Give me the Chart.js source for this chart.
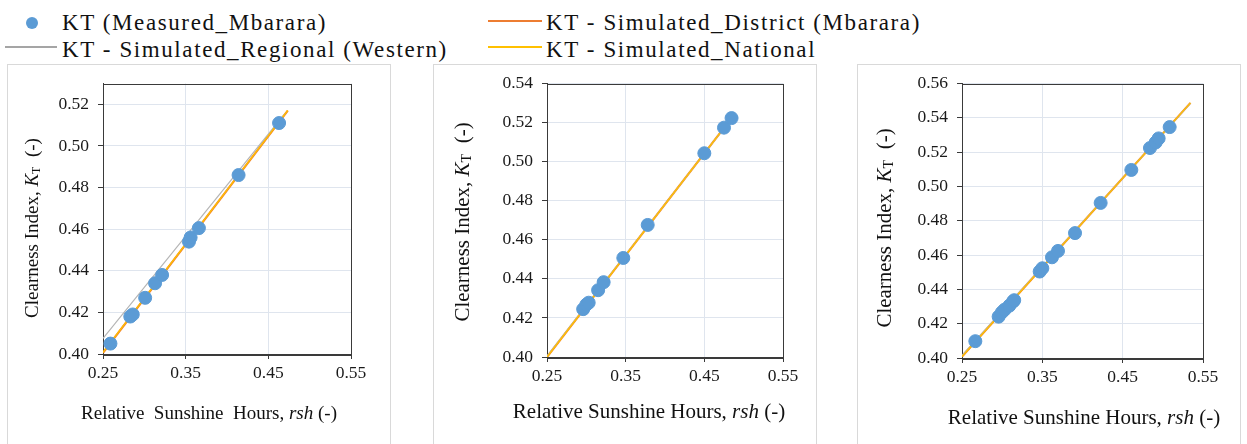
<!DOCTYPE html>
<html>
<head>
<meta charset="utf-8">
<script src="https://cdn.jsdelivr.net/npm/chart.js@4/dist/chart.umd.min.js"></script>
<style>
  body { margin: 0; background: #fff; width: 1247px; height: 444px; overflow: hidden; position: relative; font-family: "Liberation Serif", "Times New Roman", serif; }
  .box { position: absolute; top: 64px; width: 382px; height: 400px; border: 1px solid #d9d9d9; }
  .cv { position: absolute; top: 64px; width: 384px; height: 380px; }
  .leg { position: absolute; font-family: "Liberation Serif", "Times New Roman", serif; font-size: 23px; line-height: 23px; letter-spacing: 1.6px; color: #111; white-space: pre; }
  .mk { position: absolute; }
</style>
</head>
<body>
<div class="box" style="left:7px"></div>
<div class="box" style="left:433px"></div>
<div class="box" style="left:857px"></div>

<div class="mk" style="left:26px;top:17px;width:12px;height:12px;border-radius:50%;background:#5B9BD5"></div>
<div class="leg" style="left:62px;top:11px">KT (Measured_Mbarara)</div>
<div class="mk" style="left:5px;top:46px;width:52px;height:2px;background:#A5A5A5"></div>
<div class="leg" style="left:62px;top:38px">KT - Simulated_Regional (Western)</div>
<div class="mk" style="left:488px;top:20px;width:54px;height:2px;background:#ED7D31"></div>
<div class="leg" style="left:546px;top:11px">KT - Simulated_District (Mbarara)</div>
<div class="mk" style="left:488px;top:46px;width:54px;height:2px;background:#FFC000"></div>
<div class="leg" style="left:546px;top:38px">KT - Simulated_National</div>

<canvas id="c1" class="cv" style="left:7px" width="384" height="380"></canvas>
<canvas id="c2" class="cv" style="left:433px" width="384" height="380"></canvas>
<canvas id="c3" class="cv" style="left:857px" width="384" height="380"></canvas>

<script>
// panel 1
var p1MeasX = [0.259, 0.283, 0.286, 0.301, 0.313, 0.3215, 0.354, 0.356, 0.366, 0.414, 0.463];
var p1MeasY = [0.405, 0.418, 0.419, 0.427, 0.434, 0.438, 0.454, 0.456, 0.4605, 0.486, 0.511];
var p1DistX = [0.25, 0.4735];
var p1DistY = [0.4006, 0.517];
var p1RegX = [0.25, 0.470];
var p1RegY = [0.4075, 0.5155];
var p1NatX = [0.25, 0.4735];
var p1NatY = [0.4008, 0.5171];

// panel 2
var p2MeasX = [0.296, 0.300, 0.303, 0.315, 0.322, 0.347, 0.378, 0.450, 0.475, 0.4846];
var p2MeasY = [0.4245, 0.4268, 0.4278, 0.4342, 0.4383, 0.4507, 0.4676, 0.5043, 0.5174, 0.5223];
var p2DistX = [0.25, 0.4846];
var p2DistY = [0.400, 0.5223];
var p2RegX = [0.25, 0.4846];
var p2RegY = [0.4005, 0.5222];
var p2NatX = [0.25, 0.4846];
var p2NatY = [0.400, 0.5223];

// panel 3
var p3MeasX = [0.2666, 0.2956, 0.2998, 0.3031, 0.309, 0.3135, 0.315, 0.3467, 0.350, 0.362, 0.3695, 0.3907, 0.4226, 0.4608, 0.484, 0.491, 0.4948, 0.5085];
var p3MeasY = [0.4098, 0.4241, 0.4267, 0.4282, 0.4305, 0.4329, 0.4337, 0.4504, 0.4523, 0.4587, 0.4624, 0.4728, 0.4904, 0.5096, 0.5224, 0.5256, 0.528, 0.5346];
var p3DistX = [0.25, 0.5344];
var p3DistY = [0.4009, 0.5487];
var p3RegX = [0.25, 0.5344];
var p3RegY = [0.4015, 0.5485];
var p3NatX = [0.25, 0.5344];
var p3NatY = [0.4009, 0.5487];

var xTicks = [0.25, 0.35, 0.45, 0.55];

function pts(xs, ys) {
    var out = [];
    for (var i = 0; i < xs.length; i++) out.push({ x: xs[i], y: ys[i] });
    return out;
}

var SERIF = '"Liberation Serif", "Times New Roman", serif';

function drawRuns(ctx, runs, x, y) {
    var total = 0;
    runs.forEach(function (r) { ctx.font = r.f; total += ctx.measureText(r.t).width; });
    var cx = x - total / 2;
    runs.forEach(function (r) {
        ctx.font = r.f;
        ctx.fillText(r.t, cx, y + (r.dy || 0));
        cx += ctx.measureText(r.t).width;
    });
}

var frameTitles = {
    id: 'frameTitles',
    beforeDatasetsDraw: function (chart) {
        var a = chart.chartArea, ctx = chart.ctx;
        ctx.save();
        ctx.strokeStyle = '#3a3a3a';
        ctx.lineWidth = 1;
        ctx.strokeRect(Math.round(a.left) + 0.5, Math.round(a.top) + 0.5,
            Math.round(a.right - a.left), Math.round(a.bottom - a.top));
        ctx.restore();
    },
    afterDraw: function (chart) {
        var o = chart.options.plugins.frameTitles, ctx = chart.ctx;
        ctx.save();
        ctx.fillStyle = '#111';
        ctx.textBaseline = 'middle';
        var fs = o.size + 'px ' + SERIF;
        drawRuns(ctx, [
            { t: o.xText, f: fs },
            { t: 'rsh', f: 'italic ' + fs },
            { t: ' (-)', f: fs }
        ], o.xt[0], o.xt[1]);
        ctx.translate(o.yt[0], o.yt[1]);
        ctx.rotate(-Math.PI / 2);
        drawRuns(ctx, [
            { t: 'Clearness Index, ', f: fs },
            { t: 'K', f: 'italic ' + fs },
            { t: 'T', f: Math.round(o.size * 0.65) + 'px ' + SERIF, dy: 4 },
            { t: '  (-)', f: fs }
        ], 0, 0);
        ctx.restore();
    }
};

function makeChart(id, d, yMax, pad, yW, xH, xt, yt, xText, size) {
    new Chart(document.getElementById(id), {
        type: 'scatter',
        data: {
            datasets: [
                { label: 'KT (Measured_Mbarara)', data: pts(d[0], d[1]), order: 0, backgroundColor: '#5B9BD5', borderColor: '#5B9BD5', pointRadius: 6.5, pointHoverRadius: 6.5 },
                { label: 'KT - Simulated_District (Mbarara)', data: pts(d[2], d[3]), order: 3, showLine: true, borderColor: '#ED7D31', borderWidth: 2.2, pointRadius: 0 },
                { label: 'KT - Simulated_Regional (Western)', data: pts(d[4], d[5]), order: 2, showLine: true, borderColor: '#B4B4B4', borderWidth: 1.2, pointRadius: 0 },
                { label: 'KT - Simulated_National', data: pts(d[6], d[7]), order: 1, showLine: true, borderColor: '#FFC000', borderWidth: 1.4, pointRadius: 0 }
            ]
        },
        options: {
            responsive: false,
            animation: false,
            layout: { padding: { left: 0, right: pad[1], top: pad[0], bottom: 0 } },
            plugins: {
                legend: { display: false },
                tooltip: { enabled: false },
                frameTitles: { xt: xt, yt: yt, xText: xText, size: size }
            },
            scales: {
                x: {
                    type: 'linear',
                    min: 0.25, max: 0.55,
                    afterBuildTicks: function (s) { s.ticks = xTicks.map(function (v) { return { value: v }; }); },
                    afterFit: function (s) { s.height = xH; },
                    grid: { color: '#dfe5ee', tickColor: '#3a3a3a', tickLength: 5 },
                    border: { color: '#3a3a3a' },
                    ticks: { padding: 4, color: '#1a1a1a', font: { family: SERIF, size: 17.5 }, maxRotation: 0,
                        callback: function (v) { return v.toFixed(2); } }
                },
                y: {
                    min: 0.40, max: yMax,
                    afterFit: function (s) { s.width = yW; },
                    grid: { color: '#dfe5ee', tickColor: '#3a3a3a', tickLength: 5 },
                    border: { color: '#3a3a3a' },
                    ticks: { stepSize: 0.02, includeBounds: false, padding: 9, color: '#1a1a1a', font: { family: SERIF, size: 17.5 },
                        callback: function (v) { return v.toFixed(2); } }
                }
            }
        },
        plugins: [frameTitles]
    });
}

function drawAll() {
    makeChart('c1', [p1MeasX, p1MeasY, p1DistX, p1DistY, p1RegX, p1RegY, p1NatX, p1NatY],
        0.53, [10, 40], 96, 90, [202, 350], [26, 164], 'Relative  Sunshine  Hours, ', 19);
    makeChart('c2', [p2MeasX, p2MeasY, p2DistX, p2DistY, p2RegX, p2RegY, p2NatX, p2NatY],
        0.54, [10, 34], 114, 87, [216, 348], [30, 158], 'Relative Sunshine Hours, ', 21);
    makeChart('c3', [p3MeasX, p3MeasY, p3DistX, p3DistY, p3RegX, p3RegY, p3NatX, p3NatY],
        0.56, [11, 38], 105, 86, [227, 354], [28, 164], 'Relative Sunshine Hours, ', 21);
}

Promise.all([
    document.fonts.load('17.5px "Liberation Serif"'),
    document.fonts.load('italic 19px "Liberation Serif"')
]).then(drawAll, drawAll);
</script>
</body>
</html>
